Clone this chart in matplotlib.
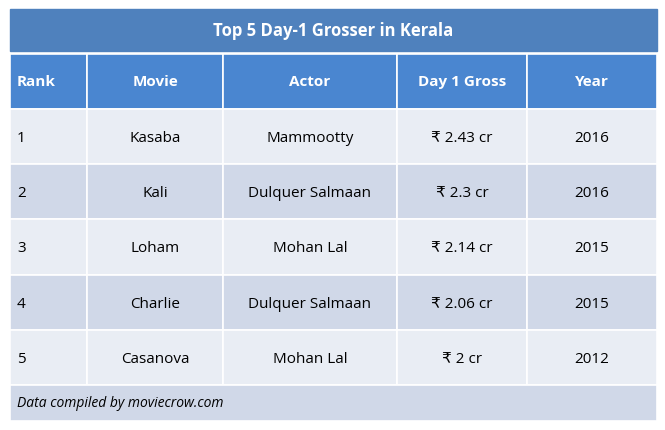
import matplotlib
matplotlib.use("Agg")
import matplotlib.pyplot as plt
from matplotlib.patches import Rectangle

title = "Top 5 Day-1 Grosser in Kerala"
columns = ["Rank", "Movie", "Actor", "Day 1 Gross", "Year"]
ranks = ["1", "2", "3", "4", "5"]
movies = ["Kasaba", "Kali", "Loham", "Charlie", "Casanova"]
actors = ["Mammootty", "Dulquer Salmaan", "Mohan Lal", "Dulquer Salmaan", "Mohan Lal"]
gross = ["₹ 2.43 cr", "₹ 2.3 cr", "₹ 2.14 cr", "₹ 2.06 cr", "₹ 2 cr"]
years = ["2016", "2016", "2015", "2015", "2012"]
footer = "Data compiled by moviecrow.com"

W, H = 665, 431
plt.rcParams["font.family"] = ["Open Sans", "DejaVu Sans"]
fig = plt.figure(figsize=(W / 100, H / 100), dpi=100)
ax = fig.add_axes([0, 0, 1, 1])
ax.set_xlim(0, W); ax.set_ylim(H, 0); ax.axis("off")

col_x = [10, 87, 223, 397, 527, 657]
row_y = [55, 110, 165, 220, 276, 331, 386]
white = "white"

# title bar
ax.add_patch(Rectangle((10, 10), 647, 42, color="#4f81bd"))
ax.text(333, 31, title, color=white, fontsize=12, fontweight="bold", ha="center", va="center")

# header
for j, name in enumerate(columns):
    x0, x1 = col_x[j], col_x[j + 1]
    ax.add_patch(Rectangle((x0, row_y[0]), x1 - x0, row_y[1] - row_y[0], fc="#4a86d0", ec=white, lw=1.2))
    if j == 0:
        ax.text(x0 + 7, 82, name, color=white, fontsize=11, fontweight="bold", va="center")
    else:
        ax.text((x0 + x1) / 2, 82, name, color=white, fontsize=11, fontweight="bold", ha="center", va="center")

rows = list(zip(ranks, movies, actors, gross, years))
for i, row in enumerate(rows):
    y0, y1 = row_y[i + 1], row_y[i + 2]
    fc = "#e9edf4" if i % 2 == 0 else "#d0d8e8"
    for j, val in enumerate(row):
        x0, x1 = col_x[j], col_x[j + 1]
        ax.add_patch(Rectangle((x0, y0), x1 - x0, y1 - y0, fc=fc, ec=white, lw=1.2))
        if j == 0:
            ax.text(x0 + 7, (y0 + y1) / 2 + 1, val, fontsize=11, va="center")
        else:
            ax.text((x0 + x1) / 2, (y0 + y1) / 2 + 1, val, fontsize=11, ha="center", va="center")

# footer
ax.add_patch(Rectangle((10, 386), 647, 36, fc="#d0d8e8", ec=white, lw=1.2))
ax.text(17, 404, footer, fontsize=10, style="italic", va="center")

fig.savefig("out.png", dpi=100, facecolor="white")
